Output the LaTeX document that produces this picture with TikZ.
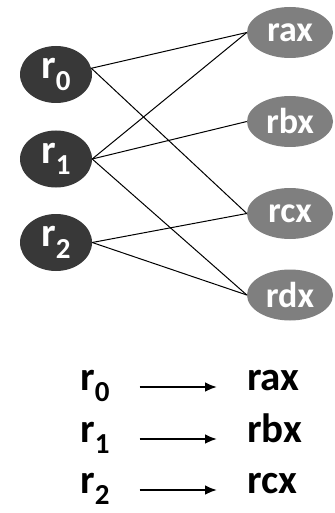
\documentclass[tikz,border=0pt]{standalone}
\usepackage{fontspec}
\setmainfont{Carlito}
\usetikzlibrary{shapes.geometric,arrows.meta}
\definecolor{regdark}{HTML}{383838}
\definecolor{reggray}{HTML}{7F7F7F}
% register name with a lowered index
\newcommand\regsub[2]{r\raisebox{-0.28em}{\fontsize{#2}{#2}\selectfont #1}}
\begin{document}
\begin{tikzpicture}[x=1pt,y=-1pt,
  virt/.style={ellipse,fill=regdark,minimum width=72pt,minimum height=57pt,inner sep=0pt,
    text=white,font=\bfseries\fontsize{41}{41}\selectfont},
  phys/.style={ellipse,fill=reggray,minimum width=86pt,minimum height=51pt,inner sep=0pt,
    text=white,font=\bfseries\fontsize{36}{36}\selectfont},
  link/.style={line width=1pt,black},
  maptext/.style={inner sep=0pt,text height=20pt,text depth=13pt,
    font=\bfseries\fontsize{41}{41}\selectfont},
  maparrow/.style={line width=2.6pt,-{Latex[length=12pt,width=10pt]},shorten <=30pt,shorten >=30pt}]
\useasboundingbox (0,0) rectangle (334,513);

% virtual registers
\node[virt] (r0) at (56,74.5) {\regsub{0}{29}};
\node[virt] (r1) at (56,159) {\regsub{1}{29}};
\node[virt] (r2) at (56,242.5) {\regsub{2}{29}};

% physical registers
\node[phys] (rax) at (290,32.5) {rax};
\node[phys] (rbx) at (290,121.5) {rbx};
\node[phys] (rcx) at (290,213.5) {rcx};
\node[phys] (rdx) at (290,295) {rdx};

% interference / candidate edges
\draw[link] (r0.10) -- (rax.west);
\draw[link] (r0.10) -- (rcx.west);
\draw[link] (r1.east) -- (rax.west);
\draw[link] (r1.east) -- (rbx.west);
\draw[link] (r1.east) -- (rdx.west);
\draw[link] (r2.east) -- (rcx.west);
\draw[link] (r2.east) -- (rdx.west);

% resulting assignment
\node[maptext,anchor=west] (m0) at (80,387) {\regsub{0}{29}};
\node[maptext,anchor=west] (m1) at (80,439) {\regsub{1}{29}};
\node[maptext,anchor=west] (m2) at (80,490) {\regsub{2}{29}};
\node[maptext,anchor=west] (a0) at (247,387) {rax};
\node[maptext,anchor=west] (a1) at (247,439) {rbx};
\node[maptext,anchor=west] (a2) at (247,490) {rcx};
\draw[maparrow] (m0.east) -- (a0.west);
\draw[maparrow] (m1.east) -- (a1.west);
\draw[maparrow] (m2.east) -- (a2.west);
\end{tikzpicture}
\end{document}
